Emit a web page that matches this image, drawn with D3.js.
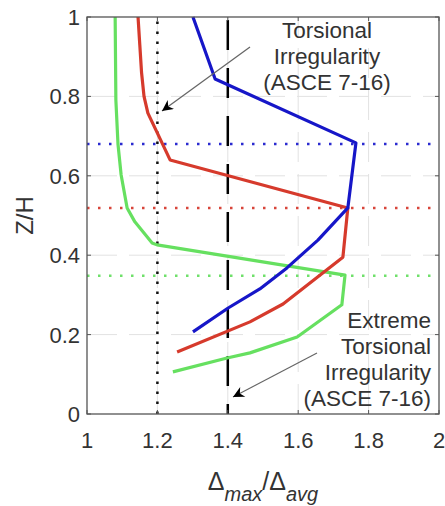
<!DOCTYPE html>
<html><head><meta charset="utf-8">
<script src="https://d3js.org/d3.v7.min.js"></script>
<style>body{margin:0;background:#fff}svg{display:block}</style>
</head><body>
<script>
// Data (x = Δmax/Δavg, y = Z/H)
const blueX = [1.301, 1.364, 1.764, 1.741, 1.656, 1.568, 1.491, 1.401, 1.301];
const blueY = [1.000, 0.844, 0.683, 0.519, 0.438, 0.368, 0.315, 0.267, 0.207];
const redX  = [1.145, 1.150, 1.155, 1.162, 1.173, 1.236, 1.741, 1.727, 1.557, 1.463, 1.256];
const redY  = [1.000, 0.930, 0.860, 0.800, 0.758, 0.640, 0.519, 0.395, 0.277, 0.232, 0.156];
const greenX = [1.080, 1.082, 1.088, 1.097, 1.114, 1.136, 1.185, 1.199, 1.733, 1.724, 1.597, 1.463, 1.398, 1.244];
const greenY = [1.000, 0.791, 0.680, 0.602, 0.519, 0.484, 0.431, 0.426, 0.350, 0.275, 0.194, 0.154, 0.141, 0.106];
const peakLevels = [0.680, 0.519, 0.348]; // blue, red, green dotted
const limitTorsional = 1.2;
const limitExtreme = 1.4;
const xTicks = [1, 1.2, 1.4, 1.6, 1.8, 2];
const yTicks = [0, 0.2, 0.4, 0.6, 0.8, 1];
const xTickLabels = ["1", "1.2", "1.4", "1.6", "1.8", "2"];
const yTickLabels = ["0", "0.2", "0.4", "0.6", "0.8", "1"];
const note1 = ["Torsional", "Irregularity", "(ASCE 7-16)"];
const note2 = ["Extreme", "Torsional", "Irregularity", "(ASCE 7-16)"];

const W = 445, H = 506;
const m = {l: 87, r: 6, t: 17, b: 92};
const svg = d3.select("body").append("svg").attr("width", W).attr("height", H)
  .style("font-family", "'Liberation Sans', Arial, sans-serif");
const x = d3.scaleLinear().domain([1, 2]).range([m.l, W - m.r]);
const y = d3.scaleLinear().domain([0, 1]).range([H - m.b, m.t]);

svg.append("defs").append("marker").attr("id", "ah").attr("viewBox", "0 0 10 10")
  .attr("refX", 10).attr("refY", 5).attr("markerWidth", 16).attr("markerHeight", 11)
  .attr("markerUnits", "userSpaceOnUse").attr("orient", "auto")
  .append("path").attr("d", "M0,0 L10,5 L0,10 L3,5 Z").attr("fill", "#000");

// grid
const g = svg.append("g");
g.selectAll(".gx").data(xTicks.slice(1, -1)).join("line")
  .attr("x1", d => x(d)).attr("x2", d => x(d)).attr("y1", y(0)).attr("y2", y(1))
  .attr("stroke", "#e2e2e2").attr("stroke-width", 1).attr("stroke-dasharray", "30,12");
g.selectAll(".gy").data(yTicks.slice(1, -1)).join("line")
  .attr("y1", d => y(d)).attr("y2", d => y(d)).attr("x1", x(1)).attr("x2", x(2))
  .attr("stroke", "#e2e2e2").attr("stroke-width", 1).attr("stroke-dasharray", "30,12");

// horizontal dotted peaks
const peakColors = ["#2a2ad0", "#d8453a", "#6fe06a"];
svg.selectAll(".pk").data(peakLevels).join("line")
  .attr("x1", x(1)).attr("x2", x(2)).attr("y1", d => y(d)).attr("y2", d => y(d))
  .attr("stroke", (d, i) => peakColors[i]).attr("stroke-width", 2.5)
  .attr("stroke-dasharray", "2.5,8.5");

// vertical limits
svg.append("line").attr("x1", x(limitTorsional)).attr("x2", x(limitTorsional))
  .attr("y1", y(0)).attr("y2", y(1)).attr("stroke", "#111").attr("stroke-width", 2.5)
  .attr("stroke-dasharray", "2.5,7.5");
svg.append("line").attr("x1", x(limitExtreme)).attr("x2", x(limitExtreme))
  .attr("y1", y(0)).attr("y2", y(1)).attr("stroke", "#000").attr("stroke-width", 2.5)
  .attr("stroke-dasharray", "30,18").attr("stroke-dashoffset", 20);

// series
const line = d3.line().x(d => x(d[0])).y(d => y(d[1]));
const series = [
  {xs: greenX, ys: greenY, c: "#66e060"},
  {xs: redX, ys: redY, c: "#d63a2c"},
  {xs: blueX, ys: blueY, c: "#1616c8"}
];
series.forEach(s => {
  svg.append("path").datum(s.xs.map((v, i) => [v, s.ys[i]])).attr("d", line)
    .attr("fill", "none").attr("stroke", s.c).attr("stroke-width", 3.2)
    .attr("stroke-linejoin", "round");
});

// frame
svg.append("rect").attr("x", x(1)).attr("y", y(1)).attr("width", x(2) - x(1))
  .attr("height", y(0) - y(1)).attr("fill", "none").attr("stroke", "#555").attr("stroke-width", 1.3);
// ticks inside
xTicks.forEach(t => {
  svg.append("line").attr("x1", x(t)).attr("x2", x(t)).attr("y1", y(0)).attr("y2", y(0) - 4).attr("stroke", "#555");
  svg.append("line").attr("x1", x(t)).attr("x2", x(t)).attr("y1", y(1)).attr("y2", y(1) + 4).attr("stroke", "#555");
});
yTicks.forEach(t => {
  svg.append("line").attr("y1", y(t)).attr("y2", y(t)).attr("x1", x(1)).attr("x2", x(1) + 4).attr("stroke", "#555");
  svg.append("line").attr("y1", y(t)).attr("y2", y(t)).attr("x1", x(2)).attr("x2", x(2) - 4).attr("stroke", "#555");
});

// tick labels
svg.selectAll(".xl").data(xTicks).join("text").attr("x", d => x(d)).attr("y", y(0) + 34)
  .attr("text-anchor", "middle").attr("font-size", 22).attr("fill", "#333")
  .text((d, i) => xTickLabels[i]);
svg.selectAll(".yl").data(yTicks).join("text").attr("x", x(1) - 7).attr("y", d => y(d) + 8)
  .attr("text-anchor", "end").attr("font-size", 22).attr("fill", "#333")
  .text((d, i) => yTickLabels[i]);

// axis labels
const xl = svg.append("text").attr("x", (x(1) + x(2)) / 2).attr("y", 490)
  .attr("text-anchor", "middle").attr("font-size", 25).attr("fill", "#333");
xl.append("tspan").text("Δ");
xl.append("tspan").attr("font-style", "italic").attr("font-size", 20).attr("dy", 11).text("max");
xl.append("tspan").attr("dy", -11).text("/Δ");
xl.append("tspan").attr("font-style", "italic").attr("font-size", 20).attr("dy", 11).text("avg");
svg.append("text").attr("transform", `translate(33,${(y(0) + y(1)) / 2}) rotate(-90)`)
  .attr("text-anchor", "middle").attr("font-size", 24).attr("fill", "#333").text("Z/H");

// annotations
svg.append("text").attr("x", 327).attr("y", 38).attr("text-anchor", "middle")
  .attr("font-size", 22.5).attr("fill", "#333")
  .selectAll("tspan").data(note1).join("tspan").attr("x", 327).attr("dy", (d, i) => i ? 26 : 0).text(d => d);
svg.append("text").attr("x", 431).attr("y", 328).attr("text-anchor", "end")
  .attr("font-size", 22.5).attr("fill", "#333")
  .selectAll("tspan").data(note2).join("tspan").attr("x", 431).attr("dy", (d, i) => i ? 26 : 0).text(d => d);
svg.append("line").attr("x1", 250).attr("y1", 47).attr("x2", 162).attr("y2", 111)
  .attr("stroke", "#666").attr("stroke-width", 1.2).attr("marker-end", "url(#ah)");
svg.append("line").attr("x1", 317).attr("y1", 353).attr("x2", 233).attr("y2", 397)
  .attr("stroke", "#666").attr("stroke-width", 1.2).attr("marker-end", "url(#ah)");
</script>
</body></html>
